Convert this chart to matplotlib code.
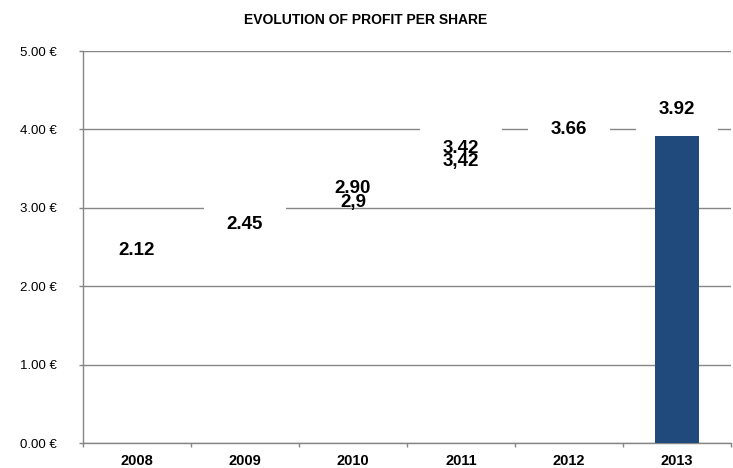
import matplotlib
matplotlib.use("Agg")
import matplotlib.pyplot as plt
import numpy as np

plt.rcParams['font.family'] = ['Liberation Sans', 'DejaVu Sans']

# data
years = ['2008', '2009', '2010', '2011', '2012', '2013']
profit = [2.12, 2.45, 2.90, 3.42, 3.66, 3.92]
labels = ['2.12', '2.45', '2.90', '3.42', '3.66', '3.92']
# second (overlapping) label layer, comma style, only some years
comma_labels = ['', '', '2,9', '3,42', '', '']
# only the last year has a visible bar
shown = [False, False, False, False, False, True]
# label background boxes that hide the gridlines
boxed = [True, True, False, True, True, True]
yticks = [0, 1, 2, 3, 4, 5]

grid_col = '#868686'
bar_col = '#214A7C'

fig = plt.figure(figsize=(7.33, 4.68), dpi=100)
ax = fig.add_axes([0.1132, 0.0534, 0.8841, 0.8376])

x = np.arange(len(years))
ax.set_xlim(-0.5, len(years) - 0.5)
ax.set_ylim(0, 5)

ax.set_yticks(yticks)
ax.set_yticklabels(['%.2f €' % v for v in yticks], fontsize=9.5)
ax.yaxis.grid(True, color=grid_col, linewidth=1.0, zorder=0)
ax.set_axisbelow(True)
ax.tick_params(axis='y', length=3, width=1, color=grid_col, pad=16)

ax.set_xticks(x)
ax.set_xticklabels(years, fontsize=10.5, fontweight='bold')
ax.set_xticks(np.arange(len(years) + 1) - 0.5, minor=True)
ax.tick_params(axis='x', which='major', length=0, pad=8)
ax.tick_params(axis='x', which='minor', length=3, width=1, color=grid_col)

for s in ['top', 'right']:
    ax.spines[s].set_visible(False)
for s in ['left', 'bottom']:
    ax.spines[s].set_color(grid_col)
    ax.spines[s].set_linewidth(1.0)

# white label boxes (hide gridlines), then the bar
lab_off = 0.34
box_h = 0.72
for i in range(len(years)):
    if boxed[i]:
        ax.bar(x[i], box_h, bottom=profit[i] + lab_off - box_h / 2, width=0.76,
               color='white', edgecolor='none', zorder=2)
hts = [p if s else 0 for p, s in zip(profit, shown)]
ax.bar(x, hts, width=0.41, color=bar_col, edgecolor='none', zorder=3)

for i in range(len(years)):
    ax.text(x[i], profit[i] + lab_off, labels[i], ha='center', va='center',
            fontsize=13.5, fontweight='bold', zorder=4)
    if comma_labels[i]:
        ax.text(x[i], profit[i] + 0.17, comma_labels[i], ha='center', va='center',
                fontsize=13.5, fontweight='bold', zorder=5)

fig.text(0.4993, 1 - 20 / 468, 'EVOLUTION OF PROFIT PER SHARE', ha='center',
         va='center', fontsize=10, fontweight='bold')

fig.savefig('out.png', dpi=100)
